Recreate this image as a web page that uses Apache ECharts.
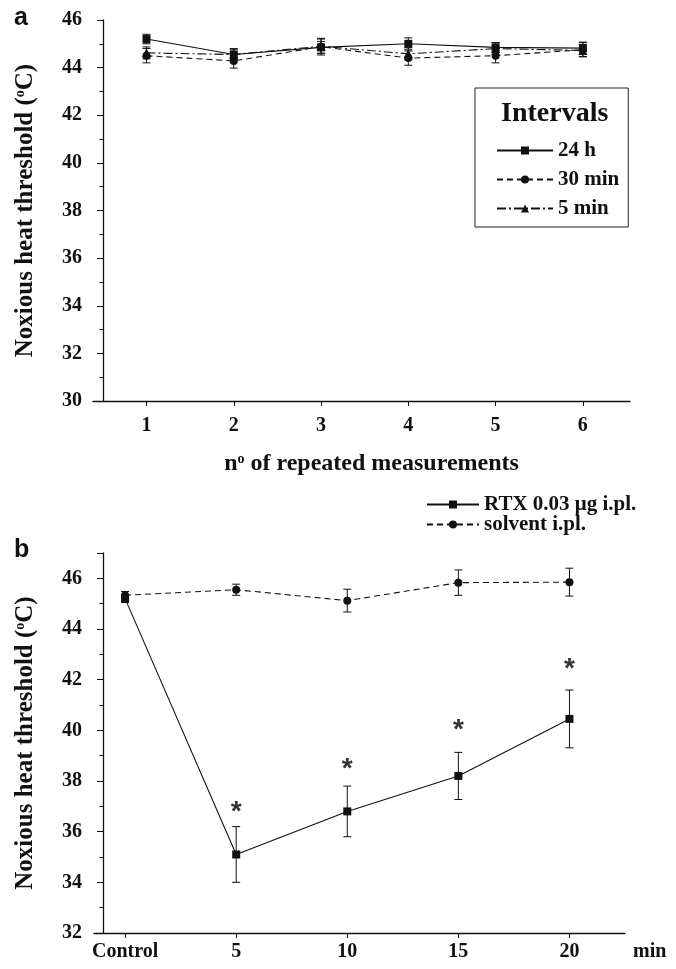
<!DOCTYPE html>
<html>
<head>
<meta charset="utf-8">
<script src="https://cdn.jsdelivr.net/npm/echarts@6/dist/echarts.min.js"></script>
<style>
  html, body { margin: 0; padding: 0; background: #fff; }
  #chart { width: 676px; height: 969px; }
</style>
</head>
<body>
<div id="chart"></div>
<script>
// ---- panel a: repeated measurements at different intervals ----
const repeatIdx = [1, 2, 3, 4, 5, 6];
const h24 = [45.2, 44.55, 44.85, 45.0, 44.85, 44.82];
const h24Err = [0.2, 0.2, 0.25, 0.25, 0.2, 0.25];
const min30 = [44.5, 44.28, 44.88, 44.4, 44.5, 44.75];
const min30Err = [0.3, 0.3, 0.35, 0.3, 0.3, 0.3];
const min5 = [44.62, 44.55, 44.9, 44.58, 44.8, 44.72];
const min5Err = [0.25, 0.25, 0.3, 0.25, 0.25, 0.25];

// ---- panel b: RTX vs solvent over time ----
const timeMin = [0, 5, 10, 15, 20];
const timeLabels = ['Control', '5', '10', '15', '20'];
const rtx = [45.2, 35.1, 36.8, 38.2, 40.45];
const rtxErr = [0.15, 1.1, 1.0, 0.93, 1.14];
const solvent = [45.33, 45.55, 45.12, 45.83, 45.85];
const solventErr = [0.15, 0.22, 0.45, 0.5, 0.55];
const starX = [5, 10, 15, 20];
const starY = [37.05, 38.75, 40.27, 42.67];

const serif = "'Liberation Serif', 'Times New Roman', serif";
const ink = '#111';

const chart = echarts.init(document.getElementById('chart'));

function pairs(xs, ys) {
  return xs.map((x, i) => [x, ys[i]]);
}

function renderErrorBar(params, api) {
  const x = api.value(0), y = api.value(1), e = api.value(2);
  const hi = api.coord([x, y + e]);
  const lo = api.coord([x, y - e]);
  const cap = 4;
  const style = { stroke: ink, lineWidth: 1 };
  return {
    type: 'group',
    children: [
      { type: 'line', shape: { x1: hi[0], y1: hi[1], x2: lo[0], y2: lo[1] }, style },
      { type: 'line', shape: { x1: hi[0] - cap, y1: hi[1], x2: hi[0] + cap, y2: hi[1] }, style },
      { type: 'line', shape: { x1: lo[0] - cap, y1: lo[1], x2: lo[0] + cap, y2: lo[1] }, style }
    ]
  };
}

function errSeries(xs, ys, es, idx) {
  return {
    type: 'custom',
    xAxisIndex: idx,
    yAxisIndex: idx,
    silent: true,
    z: 2,
    renderItem: renderErrorBar,
    encode: { x: 0, y: 1 },
    data: xs.map((x, i) => [x, ys[i], es[i]])
  };
}

function lineSeries(name, xs, ys, idx, symbol, size, dash) {
  return {
    name,
    type: 'line',
    xAxisIndex: idx,
    yAxisIndex: idx,
    data: pairs(xs, ys),
    symbol,
    symbolSize: size,
    z: 3,
    lineStyle: { color: ink, width: 1.1, type: dash },
    itemStyle: { color: ink }
  };
}

const labelText = { fontFamily: serif, fontWeight: 'bold', fontSize: 20, color: ink };
const supRich = { s: { fontFamily: serif, fontWeight: 'bold', fontSize: 14, color: ink, verticalAlign: 'top' } };
const xNameText = { fontFamily: serif, fontWeight: 'bold', fontSize: 24, color: ink, rich: supRich };
const yNameText = { fontFamily: serif, fontWeight: 'bold', fontSize: 25, color: ink, rich: supRich };
const axisLine = { show: true, onZero: false, lineStyle: { color: ink, width: 1.3 } };

const option = {
  animation: false,
  backgroundColor: '#fff',
  title: [
    { text: 'a', left: 9, top: 1, textStyle: { fontFamily: 'Liberation Sans', fontWeight: 'bold', fontSize: 25, color: ink } },
    { text: 'b', left: 9, top: 533, textStyle: { fontFamily: 'Liberation Sans', fontWeight: 'bold', fontSize: 25, color: ink } },
    { text: 'Intervals', left: 496, top: 95, z: 10, textStyle: { fontFamily: serif, fontWeight: 'bold', fontSize: 28, color: ink } }
  ],
  legend: [
    {
      data: ['24 h', '30 min', '5 min'],
      orient: 'vertical',
      left: 475,
      top: 88,
      padding: [52, 9, 8, 21],
      itemWidth: 56,
      itemHeight: 10,
      itemGap: 8,
      itemTextGap: 5,
      borderColor: '#222',
      borderWidth: 1,
      textStyle: { fontFamily: serif, fontWeight: 'bold', fontSize: 21, color: ink }
    },
    {
      data: ['RTX 0.03 \u03bcg i.pl.', 'solvent i.pl.'],
      orient: 'vertical',
      left: 426,
      top: 494,
      padding: 0,
      itemWidth: 52,
      itemHeight: 10,
      itemGap: -1,
      itemTextGap: 6,
      textStyle: { fontFamily: serif, fontWeight: 'bold', fontSize: 21, color: ink }
    }
  ],
  grid: [
    { left: 93, top: 20, width: 537, height: 381 },
    { left: 94, top: 553, width: 531, height: 380 }
  ],
  xAxis: [
    {
      gridIndex: 0, type: 'value', min: 0.387, max: 6.54,
      axisLine,
      axisTick: { customValues: repeatIdx, length: 5, lineStyle: { color: ink } },
      axisLabel: { customValues: repeatIdx, margin: 15, ...labelText },
      splitLine: { show: false },
      name: 'n{s|o} of repeated measurements',
      nameLocation: 'middle',
      nameGap: 51,
      nameTextStyle: { ...xNameText, padding: [0, 0, 0, 20] }
    },
    {
      gridIndex: 1, type: 'value', min: -1.4, max: 22.5,
      axisLine,
      axisTick: { customValues: timeMin, length: 5, lineStyle: { color: ink } },
      axisLabel: {
        customValues: timeMin, margin: 9, ...labelText,
        formatter: v => timeLabels[timeMin.indexOf(v)] || ''
      },
      splitLine: { show: false },
      name: 'min',
      nameLocation: 'end',
      nameGap: 8,
      nameTextStyle: { ...labelText, verticalAlign: 'top', padding: [9, 0, 0, 0] }
    }
  ],
  yAxis: [
    {
      gridIndex: 0, type: 'value', min: 30, max: 46, interval: 2, offset: -10,
      axisLine,
      axisTick: { length: 6, lineStyle: { color: ink } },
      minorTick: { show: true, splitNumber: 2, length: 3.5, lineStyle: { color: ink } },
      splitLine: { show: false },
      axisLabel: { margin: 21, ...labelText },
      name: 'Noxious heat threshold ({s|o}C)',
      nameLocation: 'middle',
      nameGap: 65,
      nameTextStyle: yNameText
    },
    {
      gridIndex: 1, type: 'value', min: 32, max: 47, interval: 2, offset: -9,
      axisLine,
      axisTick: { length: 6, lineStyle: { color: ink } },
      minorTick: { show: true, splitNumber: 2, length: 3.5, lineStyle: { color: ink } },
      splitLine: { show: false },
      axisLabel: { margin: 21, showMaxLabel: false, ...labelText },
      name: 'Noxious heat threshold ({s|o}C)',
      nameLocation: 'middle',
      nameGap: 65,
      nameTextStyle: yNameText
    }
  ],
  series: [
    errSeries(repeatIdx, h24, h24Err, 0),
    errSeries(repeatIdx, min30, min30Err, 0),
    errSeries(repeatIdx, min5, min5Err, 0),
    lineSeries('24 h', repeatIdx, h24, 0, 'rect', 8, 'solid'),
    lineSeries('30 min', repeatIdx, min30, 0, 'circle', 8, [6, 4]),
    lineSeries('5 min', repeatIdx, min5, 0, 'triangle', 9, [9, 3, 2, 3]),

    errSeries(timeMin, rtx, rtxErr, 1),
    errSeries(timeMin, solvent, solventErr, 1),
    lineSeries('RTX 0.03 \u03bcg i.pl.', timeMin, rtx, 1, 'rect', 8, 'solid'),
    lineSeries('solvent i.pl.', timeMin, solvent, 1, 'circle', 8, [6, 4]),
    {
      // significance markers above the RTX points
      type: 'scatter',
      xAxisIndex: 1,
      yAxisIndex: 1,
      silent: true,
      symbol: 'circle',
      symbolSize: 1,
      itemStyle: { color: 'rgba(0,0,0,0)' },
      label: {
        show: true,
        position: 'inside',
        formatter: '*',
        offset: [0, 7],
        fontFamily: 'Liberation Sans',
        fontWeight: 'bold',
        fontSize: 28,
        color: '#000'
      },
      data: pairs(starX, starY)
    }
  ]
};

chart.setOption(option);
</script>
</body>
</html>
